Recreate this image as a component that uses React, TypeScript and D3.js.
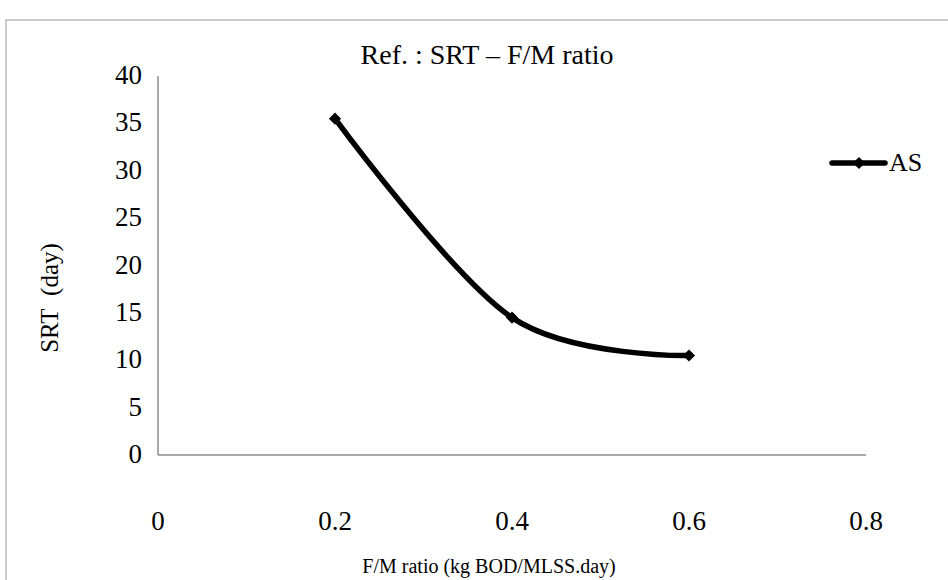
import React from "react";
import * as d3 from "d3";

const xValues = [0.2, 0.4, 0.6];
const srtValues = [35.5, 14.5, 10.5];
const xTicks = [0, 0.2, 0.4, 0.6, 0.8];
const yTicks = [0, 5, 10, 15, 20, 25, 30, 35, 40];
const seriesName = "AS";
const title = "Ref. : SRT – F/M ratio";
const xTitle = "F/M ratio (kg BOD/MLSS.day)";
const yTitle = "SRT\u00a0\u00a0(day)";

const W = 948;
const H = 580;
const tf: React.CSSProperties = { fontFamily: "'Liberation Serif', 'Times New Roman', Times, serif" };

export default function App() {
  const x = d3.scaleLinear().domain([0, 0.8]).range([158, 866]);
  const y = d3.scaleLinear().domain([0, 40]).range([455, 76]);
  const pts: [number, number][] = xValues.map((v, i) => [x(v), y(srtValues[i])]);
  const line = d3.line().curve(d3.curveCardinal.tension(0))(pts) || "";
  const diamond = d3.symbol().type(d3.symbolDiamond2).size(95)() || "";

  return (
    <svg width={W} height={H} style={{ position: "absolute", left: 0, top: 0 }}>
      <rect x={0} y={0} width={W} height={H} fill="#fff" />
      <rect x={6} y={20} width={W + 20} height={H + 20} fill="none" stroke="#9a9a9a" strokeWidth={1} />
      <text x={487} y={64} fontSize={28} textAnchor="middle" fill="#000" style={tf}>{title}</text>
      <line x1={x(0)} x2={x(0)} y1={y(40)} y2={y(0)} stroke="#8c8c8c" strokeWidth={1.5} />
      <line x1={x(0)} x2={x(0.8)} y1={y(0)} y2={y(0)} stroke="#8c8c8c" strokeWidth={1.5} />
      {yTicks.map((t) => (
        <text key={t} x={142} y={y(t) + 8} fontSize={27} textAnchor="end" fill="#000" style={tf}>{t}</text>
      ))}
      {xTicks.map((t) => (
        <text key={t} x={x(t)} y={530} fontSize={27} textAnchor="middle" fill="#000" style={tf}>{t}</text>
      ))}
      <text x={489} y={573} fontSize={20} textAnchor="middle" fill="#000" style={tf}>{xTitle}</text>
      <text transform={`translate(58,298) rotate(-90)`} fontSize={25} textAnchor="middle" fill="#000" style={tf}>{yTitle}</text>
      <path d={line} fill="none" stroke="#000" strokeWidth={5.5} strokeLinejoin="round" strokeLinecap="round" />
      {pts.map((p, i) => (
        <path key={i} d={diamond} transform={`translate(${p[0]},${p[1]})`} fill="#000" />
      ))}
      <line x1={832} x2={885} y1={163} y2={163} stroke="#000" strokeWidth={5.5} strokeLinecap="round" />
      <path d={diamond} transform="translate(859,163)" fill="#000" />
      <text x={889} y={171} fontSize={26} fill="#000" style={tf}>{seriesName}</text>
    </svg>
  );
}
